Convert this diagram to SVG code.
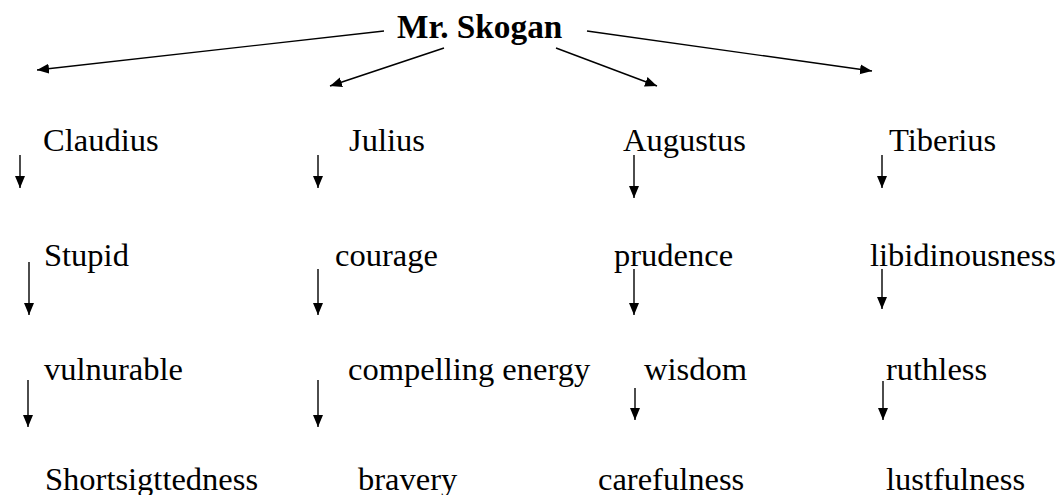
<svg xmlns="http://www.w3.org/2000/svg" width="1059" height="495" viewBox="0 0 1059 495">
<style>
text{font-family:'Liberation Serif',serif;font-size:32.5px;fill:#000}
.title{font-weight:bold;font-size:33.3px}
.c{stroke:#000;stroke-width:1.4;fill:none;marker-end:url(#ah)}
</style>
<defs>
<marker id="ah" markerUnits="userSpaceOnUse" markerWidth="13" markerHeight="11" refX="12" refY="5" orient="auto">
<path d="M0,0 L12,5 L0,10 z" fill="#000"/>
</marker>
</defs>
<rect width="1059" height="495" fill="#fff"/>
<g id="connectors">
<line class="c" x1="384" y1="31" x2="37" y2="70"/>
<line class="c" x1="444" y1="48" x2="330" y2="86"/>
<line class="c" x1="556" y1="48" x2="657" y2="86"/>
<line class="c" x1="587" y1="31" x2="872" y2="71"/>
<line class="c" x1="20" y1="155" x2="20" y2="188"/>
<line class="c" x1="29" y1="262" x2="29" y2="315"/>
<line class="c" x1="28" y1="380" x2="28" y2="427"/>
<line class="c" x1="318" y1="155" x2="318" y2="188"/>
<line class="c" x1="318" y1="269" x2="318" y2="315"/>
<line class="c" x1="318" y1="380" x2="318" y2="427"/>
<line class="c" x1="634" y1="155" x2="634" y2="198"/>
<line class="c" x1="634" y1="269" x2="634" y2="315"/>
<line class="c" x1="635" y1="388" x2="635" y2="420"/>
<line class="c" x1="882" y1="155" x2="882" y2="188"/>
<line class="c" x1="882" y1="269" x2="882" y2="309"/>
<line class="c" x1="883" y1="381" x2="883" y2="420"/>
</g>
<g id="skogan"><text class="title" x="397" y="38">Mr. Skogan</text></g>
<g id="claudius"><text x="43" y="151">Claudius</text></g>
<g id="julius"><text x="349" y="151">Julius</text></g>
<g id="augustus"><text x="623" y="151">Augustus</text></g>
<g id="tiberius"><text x="889" y="151">Tiberius</text></g>
<g id="stupid"><text x="44" y="266">Stupid</text></g>
<g id="courage"><text x="335" y="266">courage</text></g>
<g id="prudence"><text x="614" y="266">prudence</text></g>
<g id="libidinousness"><text x="870" y="266">libidinousness</text></g>
<g id="vulnurable"><text x="44" y="380">vulnurable</text></g>
<g id="compelling"><text x="348" y="380">compelling energy</text></g>
<g id="wisdom"><text x="644" y="380">wisdom</text></g>
<g id="ruthless"><text x="886" y="380">ruthless</text></g>
<g id="shortsig"><text x="45" y="490">Shortsigttedness</text></g>
<g id="bravery"><text x="358" y="490">bravery</text></g>
<g id="carefulness"><text x="598" y="490">carefulness</text></g>
<g id="lustfulness"><text x="886" y="490">lustfulness</text></g>
</svg>
